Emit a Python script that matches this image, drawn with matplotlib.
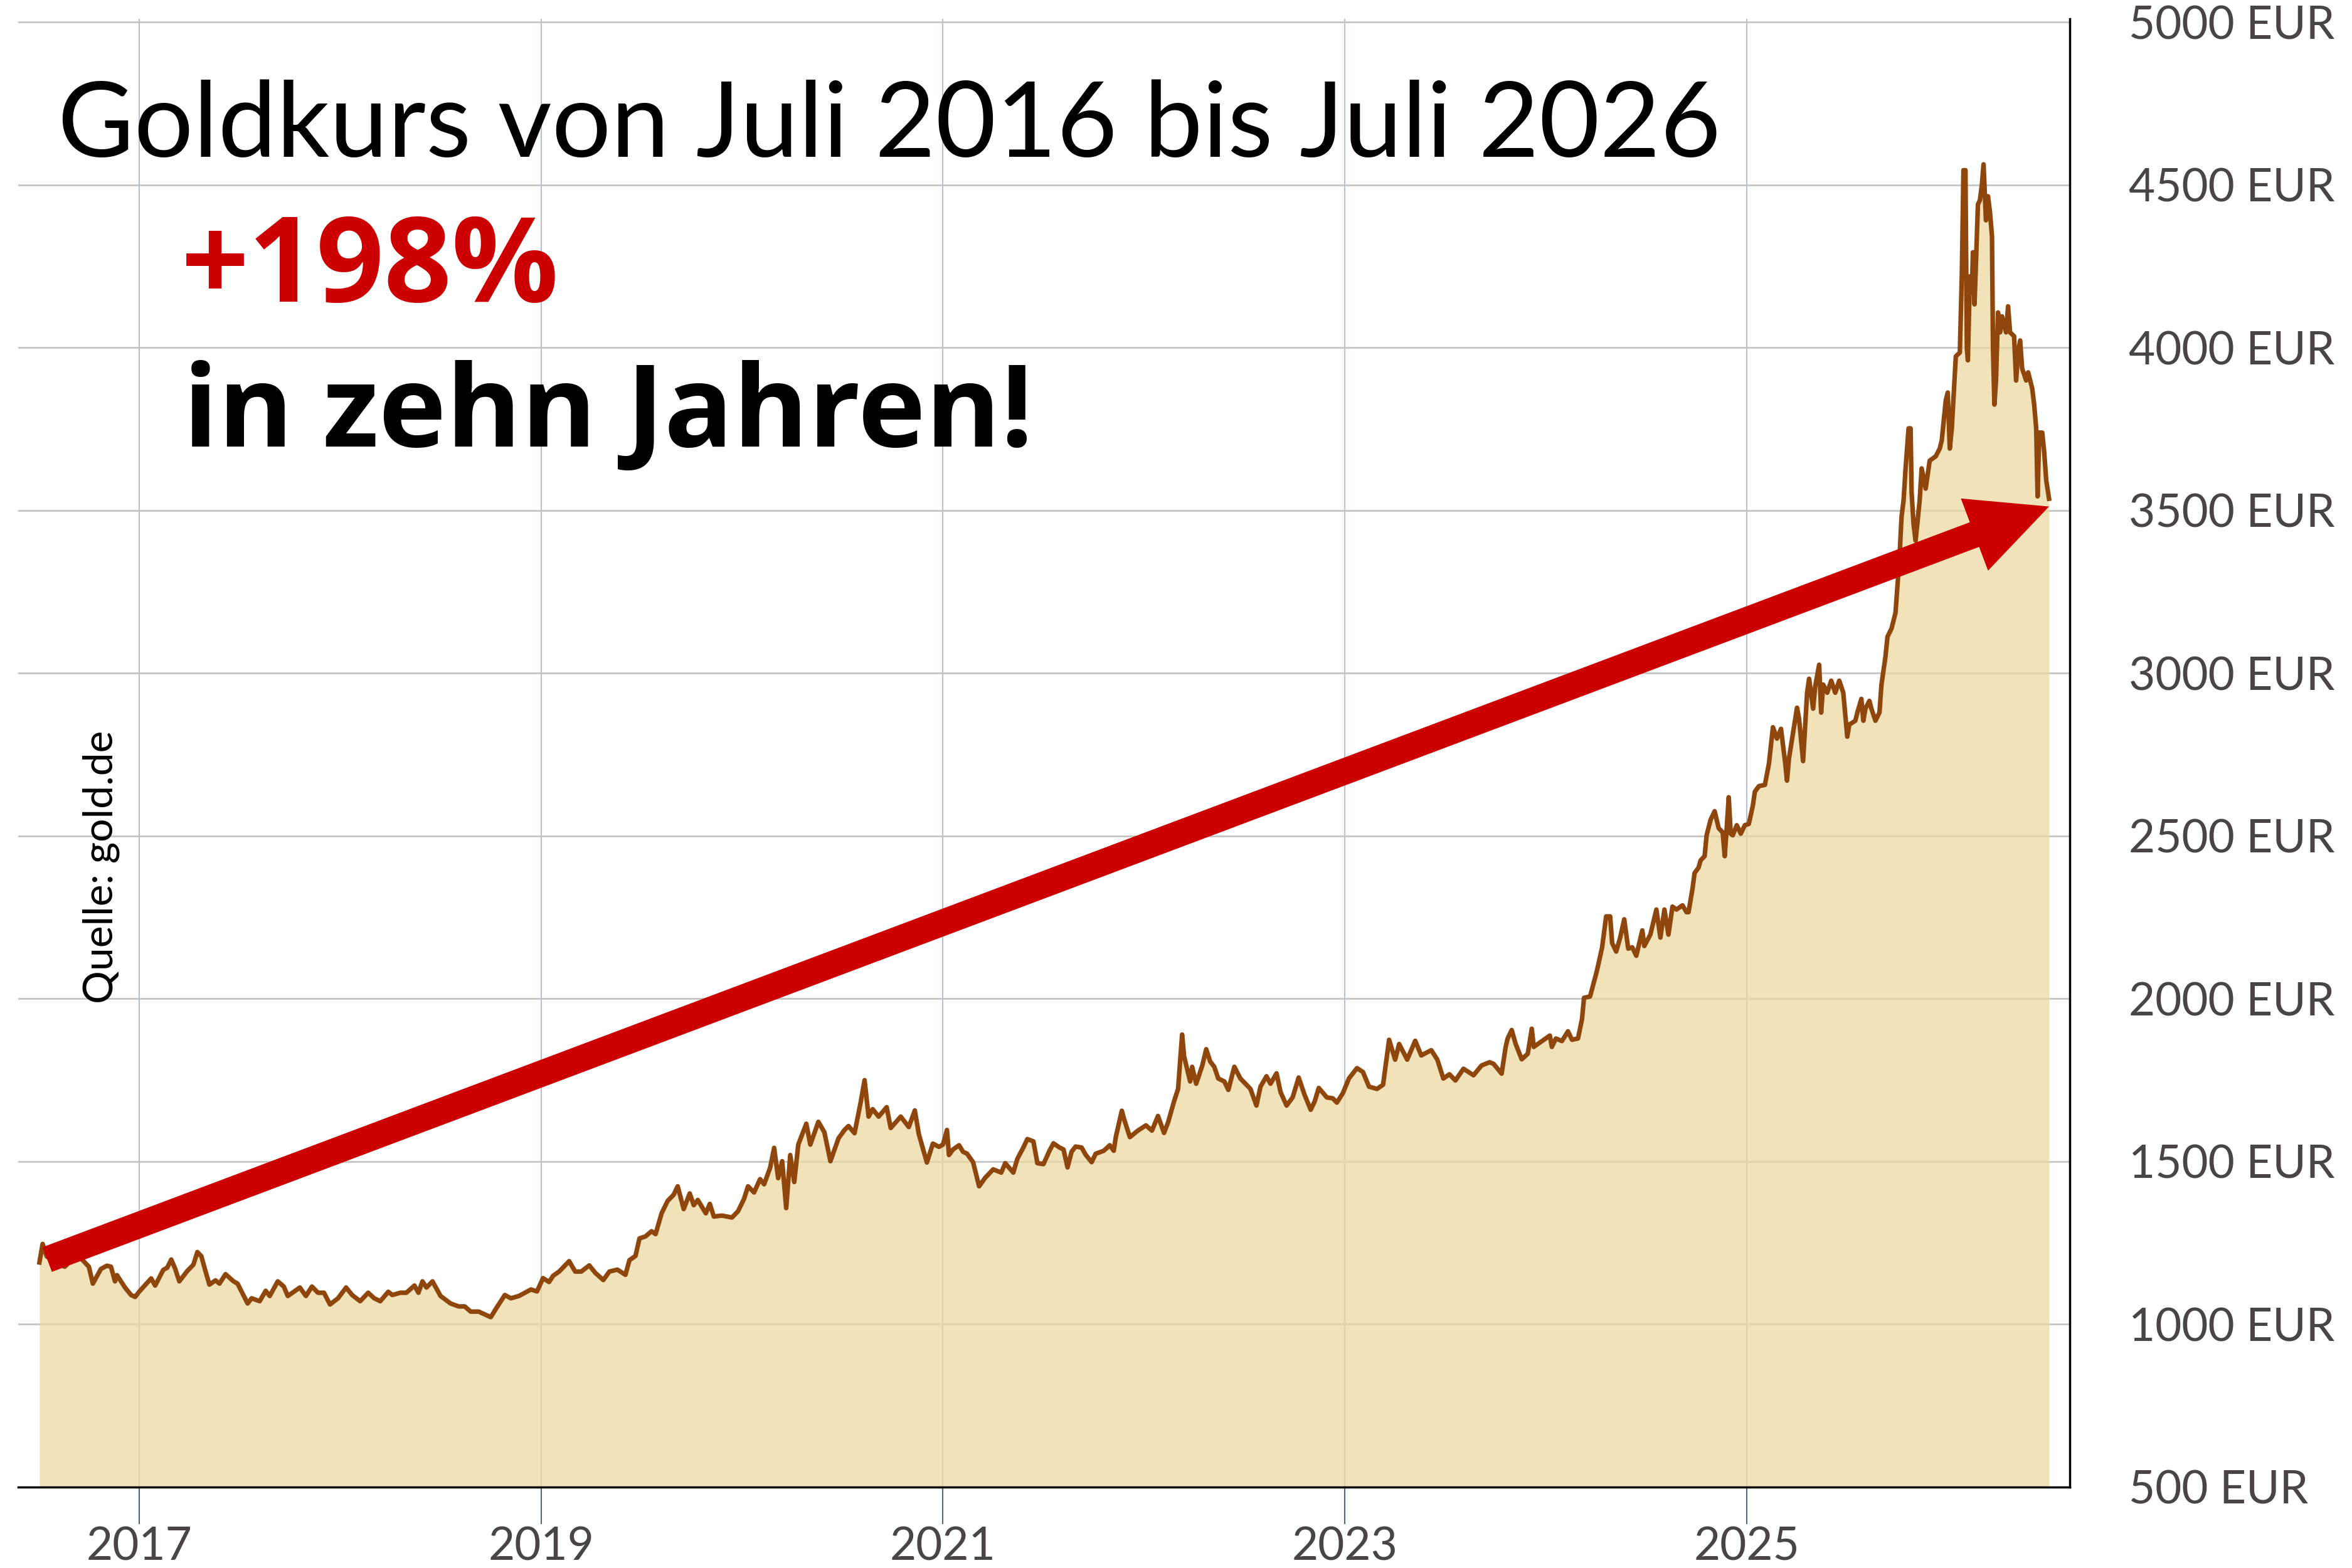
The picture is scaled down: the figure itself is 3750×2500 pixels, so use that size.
import matplotlib.pyplot as plt

plt.rcParams['font.family'] = ['Lato', 'DejaVu Sans']

# gold price in EUR (decimal year, price)
years = [
    2016.504, 2016.52, 2016.54, 2016.58, 2016.63, 2016.66, 2016.71, 2016.75, 2016.77, 2016.81,
    2016.84, 2016.86, 2016.88, 2016.89, 2016.93, 2016.96, 2016.98, 2017.00, 2017.06, 2017.08,
    2017.12, 2017.14, 2017.16, 2017.18, 2017.20, 2017.24, 2017.27, 2017.29, 2017.31, 2017.33,
    2017.35, 2017.38, 2017.40, 2017.43, 2017.47, 2017.49, 2017.54, 2017.56, 2017.60, 2017.63,
    2017.65, 2017.69, 2017.72, 2017.74, 2017.77, 2017.80, 2017.83, 2017.86, 2017.89, 2017.92,
    2017.95, 2017.99, 2018.03, 2018.06, 2018.10, 2018.14, 2018.17, 2018.20, 2018.24, 2018.26,
    2018.30, 2018.33, 2018.37, 2018.39, 2018.41, 2018.43, 2018.46, 2018.50, 2018.55, 2018.59,
    2018.62, 2018.65, 2018.69, 2018.75, 2018.78, 2018.82, 2018.85, 2018.89, 2018.92,
    2018.95, 2018.98, 2019.01, 2019.04, 2019.06, 2019.09, 2019.14, 2019.17, 2019.20, 2019.24,
    2019.27, 2019.31, 2019.34, 2019.38, 2019.42, 2019.44, 2019.47, 2019.49, 2019.52, 2019.55,
    2019.57, 2019.60, 2019.63, 2019.66, 2019.68, 2019.71, 2019.74, 2019.76, 2019.78, 2019.82,
    2019.84, 2019.86, 2019.90, 2019.95, 2019.98, 2020.01, 2020.03, 2020.06, 2020.09, 2020.11,
    2020.14, 2020.16, 2020.18, 2020.20, 2020.22, 2020.24, 2020.26, 2020.28, 2020.32, 2020.34,
    2020.38, 2020.41, 2020.44, 2020.48, 2020.51, 2020.53, 2020.56, 2020.59, 2020.61, 2020.63,
    2020.65, 2020.68, 2020.72, 2020.74, 2020.79, 2020.83, 2020.86, 2020.88, 2020.92, 2020.95,
    2020.98, 2021.00, 2021.02, 2021.03,
    2021.05, 2021.08, 2021.10, 2021.12, 2021.15, 2021.18, 2021.21, 2021.25, 2021.29, 2021.31,
    2021.35, 2021.37, 2021.40, 2021.42, 2021.45, 2021.47, 2021.50, 2021.53, 2021.55, 2021.58,
    2021.60, 2021.62, 2021.64, 2021.66, 2021.69, 2021.71, 2021.74, 2021.76, 2021.80, 2021.83,
    2021.85, 2021.86, 2021.89, 2021.90, 2021.93, 2021.97, 2022.01, 2022.04, 2022.07, 2022.10,
    2022.12, 2022.15, 2022.17, 2022.18, 2022.19, 2022.20, 2022.23, 2022.24, 2022.26, 2022.29,
    2022.31, 2022.33, 2022.35, 2022.37, 2022.40, 2022.42, 2022.45, 2022.48, 2022.51, 2022.53,
    2022.56, 2022.58, 2022.61, 2022.63, 2022.66, 2022.68, 2022.71, 2022.74, 2022.77, 2022.80,
    2022.83, 2022.85, 2022.87, 2022.91, 2022.94, 2022.96, 2022.99, 2023.02, 2023.06, 2023.09,
    2023.12, 2023.16, 2023.19, 2023.22, 2023.25, 2023.27, 2023.31, 2023.35, 2023.38, 2023.43,
    2023.46, 2023.49, 2023.52, 2023.55,
    2023.59, 2023.64, 2023.68, 2023.72, 2023.74, 2023.78, 2023.80, 2023.81, 2023.83, 2023.85,
    2023.88, 2023.91, 2023.93, 2023.94, 2023.96, 2023.99, 2024.02, 2024.03, 2024.05, 2024.08,
    2024.11, 2024.13, 2024.16, 2024.18, 2024.19, 2024.22, 2024.25, 2024.26, 2024.28, 2024.30,
    2024.32, 2024.33, 2024.35, 2024.37, 2024.39, 2024.41, 2024.43, 2024.45, 2024.48, 2024.49,
    2024.52, 2024.55, 2024.57, 2024.59, 2024.61, 2024.63, 2024.65, 2024.68, 2024.70, 2024.71,
    2024.73, 2024.74, 2024.76, 2024.77, 2024.79, 2024.80, 2024.82, 2024.84, 2024.86, 2024.88,
    2024.89, 2024.90, 2024.91, 2024.92, 2024.93, 2024.95, 2024.97, 2024.99, 2025.01, 2025.03,
    2025.04, 2025.06, 2025.09, 2025.11, 2025.13, 2025.15, 2025.17, 2025.19, 2025.20, 2025.21,
    2025.23, 2025.25, 2025.26, 2025.28,
    2025.30, 2025.31, 2025.33, 2025.34, 2025.36, 2025.37, 2025.38, 2025.40, 2025.42, 2025.44,
    2025.46, 2025.48, 2025.50, 2025.51, 2025.54, 2025.55, 2025.57, 2025.58, 2025.59, 2025.61,
    2025.62, 2025.64, 2025.66, 2025.67, 2025.69, 2025.70, 2025.72, 2025.74, 2025.75, 2025.76,
    2025.77, 2025.78, 2025.79, 2025.805, 2025.815, 2025.82, 2025.83, 2025.84, 2025.85, 2025.86,
    2025.87, 2025.89, 2025.91, 2025.94, 2025.96, 2025.97, 2025.99, 2026.00, 2026.01, 2026.02,
    2026.04, 2026.06, 2026.07, 2026.078, 2026.088, 2026.095, 2026.10, 2026.11, 2026.12, 2026.125,
    2026.133, 2026.14, 2026.15, 2026.16, 2026.17, 2026.178, 2026.185, 2026.19, 2026.20, 2026.21,
    2026.22, 2026.225, 2026.232, 2026.24, 2026.25, 2026.26, 2026.27, 2026.29, 2026.30, 2026.31,
    2026.33, 2026.34, 2026.35, 2026.36, 2026.37, 2026.39, 2026.40, 2026.42, 2026.43, 2026.44,
    2026.447, 2026.455, 2026.47, 2026.48, 2026.49, 2026.504,
]
prices = [
    1190, 1247, 1209, 1190, 1177, 1195, 1203, 1177, 1125, 1170,
    1180, 1177, 1132, 1151, 1113, 1090, 1084, 1100, 1141, 1119,
    1167, 1174, 1199, 1170, 1132, 1164, 1183, 1222, 1209, 1164,
    1122, 1135, 1125, 1154, 1132, 1125, 1064, 1080, 1071, 1103,
    1087, 1132, 1116, 1087, 1100, 1113, 1087, 1116, 1097, 1097,
    1061, 1080, 1113, 1090, 1071, 1097, 1080, 1071, 1100, 1090,
    1097, 1097, 1119, 1097, 1132, 1113, 1132, 1087, 1064, 1055,
    1055, 1039, 1039, 1022, 1052, 1090, 1080, 1087, 1097,
    1107, 1101, 1142, 1130, 1149, 1162, 1194, 1162, 1162, 1181,
    1158, 1136, 1162, 1168, 1152, 1197, 1210, 1264, 1270, 1286,
    1277, 1341, 1379, 1398, 1424, 1354, 1402, 1366, 1382, 1341,
    1370, 1331, 1334, 1328, 1347, 1385, 1424, 1405, 1446, 1430,
    1481, 1542, 1449, 1501, 1357, 1520, 1437, 1552, 1616, 1552,
    1622, 1590, 1501, 1571, 1597, 1609, 1587, 1680, 1750, 1638,
    1661, 1638, 1667, 1603, 1638, 1606, 1657, 1584, 1497, 1555,
    1545, 1552, 1597, 1520,
    1537, 1550, 1530, 1524, 1498, 1424, 1450, 1476, 1466, 1495,
    1466, 1508, 1543, 1569, 1562, 1495, 1492, 1533, 1556, 1543,
    1537, 1482, 1530, 1546, 1543, 1521, 1498, 1524, 1533, 1550,
    1533, 1575, 1656, 1633, 1575, 1595, 1611, 1595, 1640, 1588,
    1620, 1685, 1723, 1807, 1890, 1823, 1746, 1791, 1739, 1794,
    1845, 1807, 1791, 1755, 1746, 1720, 1791, 1755, 1736, 1723,
    1672, 1730, 1762, 1739, 1771, 1713, 1672, 1697, 1758, 1704,
    1659, 1685, 1726, 1697, 1694, 1681, 1710, 1755, 1787, 1775,
    1730, 1723, 1736, 1874, 1813, 1861, 1813, 1871, 1826, 1842,
    1813, 1755, 1768, 1749,
    1785, 1765, 1795, 1805, 1800, 1770, 1852, 1878, 1904, 1861,
    1814, 1831, 1908, 1852, 1861, 1874, 1887, 1852, 1878, 1870,
    1900, 1874, 1878, 1938, 2003, 2007, 2076, 2102, 2158, 2253,
    2253, 2171, 2145, 2188, 2244, 2154, 2158, 2132, 2210, 2162,
    2197, 2274, 2188, 2274, 2197, 2283, 2274, 2287, 2266, 2266,
    2339, 2386, 2403, 2425, 2438, 2502, 2550, 2576, 2524, 2511,
    2438, 2524, 2619, 2507, 2502, 2533, 2507, 2533, 2537, 2593,
    2636, 2653, 2657, 2722, 2834, 2799, 2829, 2730, 2670, 2739,
    2817, 2894, 2860, 2730,
    2940, 2983, 2891, 2958, 3026, 2879, 2965, 2940, 2977, 2940,
    2977, 2940, 2805, 2842, 2854, 2879, 2921, 2854, 2891, 2915,
    2891, 2854, 2879, 2965, 3051, 3112, 3137, 3186, 3272, 3358,
    3481, 3530, 3629, 3752, 3752, 3555, 3456, 3407, 3469, 3530,
    3629, 3567, 3653, 3666, 3690, 3715, 3838, 3862, 3690, 3752,
    3973, 3985, 4225, 4545, 4545, 3998, 3961, 4219, 4170, 4293,
    4133, 4256, 4440, 4453, 4502, 4563, 4465, 4391, 4465, 4416,
    4342, 3998, 3825, 3899, 4108, 4047, 4096, 4047, 4127, 4047,
    4035, 3899, 3985, 4022, 3936, 3899, 3924, 3875, 3825, 3752,
    3543, 3739, 3739, 3678, 3592, 3536,
]

y_ticks = [500, 1000, 1500, 2000, 2500, 3000, 3500, 4000, 4500, 5000]
y_labels = [f'{v} EUR' for v in y_ticks]
x_ticks = [2017, 2019, 2021, 2023, 2025]
x_labels = ['2017', '2019', '2021', '2023', '2025']

# arrow from the first to the last price
arrow_start = (2016.543, 1199)
arrow_end = (2026.504, 3512)

fig = plt.figure(figsize=(15, 10), dpi=250)
ax = fig.add_axes([0.0077, 0.0516, 0.8723, 0.9364])

ax.fill_between(years, prices, 500, color='#ecd89f', alpha=0.72, lw=0, zorder=1)
ax.plot(years, prices, color='#8f460c', lw=2.1, zorder=2)

ax.annotate('', xy=arrow_end, xytext=arrow_start,
            arrowprops=dict(arrowstyle='simple,head_length=0.366,head_width=0.354,tail_width=0.121',
                            mutation_scale=100, color='#cc0000', lw=0,
                            shrinkA=0, shrinkB=0),
            zorder=4)

ax.set_xlim(2016.398, 2026.607)
ax.set_ylim(500, 5010)

ax.set_axisbelow(True)
ax.yaxis.grid(True, color='#c4c4c4', lw=0.8)
ax.xaxis.grid(True, color='#b8c1ca', lw=0.6)

ax.set_xticks(x_ticks, labels=x_labels)
ax.set_yticks(y_ticks, labels=y_labels)
ax.yaxis.tick_right()
ax.tick_params(axis='y', length=0, pad=27, labelsize=21, labelcolor='#4a4448')
ax.tick_params(axis='x', length=17, width=0.6, color='#50677a', pad=1,
               labelsize=21, labelcolor='#4a4448')

for s in ['left', 'top']:
    ax.spines[s].set_visible(False)
for s in ['bottom', 'right']:
    ax.spines[s].set_color('black')
    ax.spines[s].set_linewidth(1.0)

bold_font = ['Open Sans', 'DejaVu Sans']
fig.text(0.0245, 0.9, 'Goldkurs von Juli 2016 bis Juli 2026', fontsize=48,
         ha='left', va='baseline', color='black')
fig.text(0.077, 0.8076, '+198%', fontsize=54.5, fontweight='bold', family=bold_font,
         ha='left', va='baseline', color='#cc0000')
fig.text(0.078, 0.7152, 'in zehn Jahren!', fontsize=52.5, fontweight='bold', family=bold_font,
         ha='left', va='baseline', color='black')
fig.text(0.043, 0.447, 'Quelle: gold.de', rotation=90, fontsize=19,
         ha='center', va='center', color='black')

fig.savefig('out.png', dpi=250)
